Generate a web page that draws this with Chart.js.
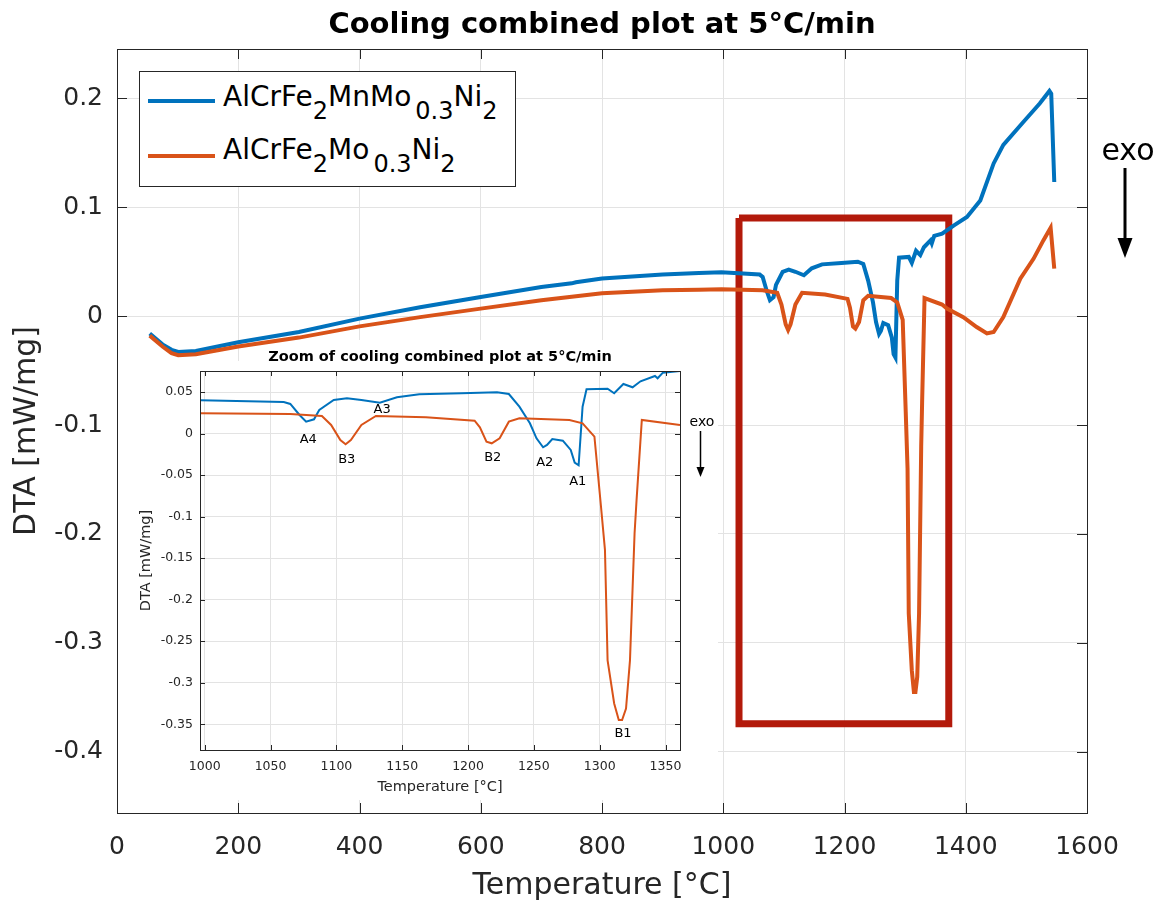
<!DOCTYPE html>
<html>
<head>
<meta charset="utf-8">
<script src="https://cdn.jsdelivr.net/npm/chart.js@4.4.1/dist/chart.umd.min.js"></script>
<style>
  body { margin: 0; background: #fff; }
  #wrap { position: relative; width: 1161px; height: 908px; font-family: 'DejaVu Sans', sans-serif; }
  #main { position: absolute; left: 0; top: 0; }
  #inset { position: absolute; left: 118px; top: 340px; }
  #legend { position: absolute; left: 139px; top: 71px; width: 375px; height: 114px;
            border: 1px solid #262626; background: #fff; color: #000; font-size: 28px; }
  #legend .row { position: absolute; left: 83px; line-height: 28px; white-space: nowrap; }
  #legend .sample { position: absolute; left: 8px; width: 67px; height: 4px; }
  #legend .sb { font-size: 24px; position: relative; top: 13px; }
</style>
</head>
<body>
<div id="wrap">
  <canvas id="main" width="1161" height="908"></canvas>
  <canvas id="inset" width="600" height="460"></canvas>
  <div id="legend">
    <div class="sample" style="top:27px;background:#0072BD"></div>
    <div class="row" style="top:11px">AlCrFe<span class="sb">2</span>MnMo<span class="sb" style="margin-left:4px">0.3</span>Ni<span class="sb">2</span></div>
    <div class="sample" style="top:82px;background:#D95319"></div>
    <div class="row" style="top:64px">AlCrFe<span class="sb">2</span>Mo<span class="sb" style="margin-left:4px">0.3</span>Ni<span class="sb">2</span></div>
  </div>
</div>
<script>
// DTA curves (temperature in °C, DTA in mW/mg)
const blueTemp = [54, 75, 90, 101, 130, 200, 300, 400, 500, 600,
  700, 750, 757, 800, 900, 960, 997, 1060, 1065, 1072,
  1077, 1083, 1087, 1098, 1108, 1119, 1133, 1146, 1163, 1195,
  1222, 1231, 1239, 1247, 1252, 1257, 1260, 1264, 1272, 1278,
  1281, 1284, 1287, 1290, 1306, 1311, 1318, 1325, 1331, 1342,
  1344, 1348, 1361, 1380, 1402, 1424, 1446, 1462, 1495, 1522,
  1538, 1541, 1546];
const blueDta = [-0.016, -0.026, -0.031, -0.033, -0.032, -0.024, -0.0147, -0.0024, 0.008, 0.0174,
  0.0266, 0.030, 0.031, 0.0345, 0.038, 0.0395, 0.0402, 0.0382, 0.0358, 0.0225,
  0.0145, 0.0173, 0.0286, 0.0406, 0.0426, 0.0406, 0.0374, 0.0438, 0.0474, 0.0486,
  0.0498, 0.0478, 0.0325, 0.0125, -0.0056, -0.0164, -0.0136, -0.0064, -0.0084, -0.0196,
  -0.0349, -0.038, 0.0325, 0.0535, 0.0542, 0.0487, 0.0599, 0.0559, 0.0631, 0.0695,
  0.0667, 0.0735, 0.0755, 0.083, 0.0908, 0.106, 0.14, 0.157, 0.178, 0.195,
  0.2065, 0.204, 0.123];

const orangeTemp = [54, 75, 90, 101, 130, 200, 300, 400, 500, 600,
  700, 800, 900, 960, 997, 1065, 1089, 1096, 1103, 1107,
  1111, 1119, 1130, 1168, 1205, 1209, 1214, 1218, 1224, 1231,
  1239, 1277, 1287, 1296, 1301, 1304, 1306, 1311, 1314.5, 1317,
  1320, 1323, 1326.5, 1328, 1332, 1361, 1369, 1396, 1418, 1435,
  1446, 1462, 1490, 1512, 1528, 1540, 1546];
const orangeDta = [-0.018, -0.028, -0.034, -0.036, -0.035, -0.028, -0.0198, -0.0095, -0.001, 0.0068,
  0.0144, 0.0208, 0.0236, 0.0242, 0.0246, 0.0237, 0.0213, 0.0105, -0.0076, -0.0128,
  -0.0076, 0.0105, 0.0213, 0.0197, 0.0157, 0.0077, -0.0096, -0.0116, -0.0055, 0.0145,
  0.0186, 0.0165, 0.0125, -0.0036, -0.088, -0.14, -0.273, -0.325, -0.345, -0.345,
  -0.331, -0.273, -0.12, -0.08, 0.0165, 0.0105, 0.0068, -0.001, -0.0101, -0.016,
  -0.0147, -0.001, 0.0343, 0.0527, 0.0694, 0.081, 0.0435];

// highlight box on the main plot (data coordinates)
const boxTemp = [1026, 1372, 1372, 1026, 1026];
const boxDta = [0.090, 0.090, -0.374, -0.374, 0.090];

// peak labels in the zoom plot
const peakNames = ['A4', 'B3', 'A3', 'B2', 'A2', 'A1', 'B1'];
const peakTemp = [1078.6, 1107.9, 1134.7, 1218.8, 1258.3, 1283.3, 1317.7];
const peakDta = [-0.0067, -0.0317, 0.0286, -0.0285, -0.0345, -0.0578, -0.361];

// ticks
const mainXTicks = [0, 200, 400, 600, 800, 1000, 1200, 1400, 1600];
const mainYTicks = [-0.4, -0.3, -0.2, -0.1, 0, 0.1, 0.2];
const mainYTickLabels = ['-0.4', '-0.3', '-0.2', '-0.1', '0', '0.1', '0.2'];
const zoomXTicks = [1000, 1050, 1100, 1150, 1200, 1250, 1300, 1350];
const zoomYTicks = [-0.35, -0.3, -0.25, -0.2, -0.15, -0.1, -0.05, 0, 0.05];
const zoomYTickLabels = ['-0.35', '-0.3', '-0.25', '-0.2', '-0.15', '-0.1', '-0.05', '0', '0.05'];

const BLUE = '#0072BD';
const ORANGE = '#D95319';
const AXIS = '#262626';
const GRID = '#e3e3e3';
const FONT = "'DejaVu Sans', sans-serif";

function toPoints(xs, ys) {
  return xs.map((x, i) => ({ x: x, y: ys[i] }));
}

// frame + inward tick marks like the original plotting tool
function framePlugin(tickLen) {
  return {
    id: 'frame',
    afterDatasetsDraw(chart) {
      const { ctx, chartArea: a, scales } = chart;
      ctx.save();
      ctx.strokeStyle = AXIS;
      ctx.lineWidth = 1;
      ctx.beginPath();
      scales.x.ticks.forEach(t => {
        const px = Math.round(scales.x.getPixelForValue(t.value)) + 0.5;
        ctx.moveTo(px, a.bottom); ctx.lineTo(px, a.bottom - tickLen);
        ctx.moveTo(px, a.top); ctx.lineTo(px, a.top + tickLen);
      });
      scales.y.ticks.forEach(t => {
        const py = Math.round(scales.y.getPixelForValue(t.value)) + 0.5;
        ctx.moveTo(a.left, py); ctx.lineTo(a.left + tickLen, py);
        ctx.moveTo(a.right, py); ctx.lineTo(a.right - tickLen, py);
      });
      ctx.stroke();
      ctx.strokeRect(Math.round(a.left) + 0.5, Math.round(a.top) + 0.5,
        Math.round(a.right - a.left), Math.round(a.bottom - a.top));
      ctx.restore();
    }
  };
}

function drawArrow(ctx, x, y0, y1, head, w, lw) {
  ctx.save();
  ctx.strokeStyle = '#000';
  ctx.fillStyle = '#000';
  ctx.lineWidth = lw;
  ctx.beginPath();
  ctx.moveTo(x, y0);
  ctx.lineTo(x, y1 - head + 1);
  ctx.stroke();
  ctx.beginPath();
  ctx.moveTo(x - w / 2, y1 - head);
  ctx.lineTo(x + w / 2, y1 - head);
  ctx.lineTo(x, y1);
  ctx.closePath();
  ctx.fill();
  ctx.restore();
}

// main chart
const mainExtras = {
  id: 'mainExtras',
  afterDraw(chart) {
    const { ctx, chartArea: a } = chart;
    ctx.save();
    ctx.fillStyle = '#000';
    ctx.font = 'bold 29px ' + FONT;
    ctx.textAlign = 'center';
    ctx.textBaseline = 'alphabetic';
    ctx.fillText('Cooling combined plot at 5°C/min', (a.left + a.right) / 2, 33);
    ctx.font = '30px ' + FONT;
    ctx.textBaseline = 'middle';
    ctx.fillText('exo', 1128, 152);
    ctx.restore();
    drawArrow(ctx, 1125, 168, 258, 20, 15, 3);
  }
};

new Chart(document.getElementById('main'), {
  type: 'line',
  data: {
    datasets: [
      { label: 'AlCrFe2Mo0.3Ni2', data: toPoints(orangeTemp, orangeDta), borderColor: ORANGE,
        borderWidth: 4, pointRadius: 0, tension: 0, order: 0 },
      { label: 'AlCrFe2MnMo0.3Ni2', data: toPoints(blueTemp, blueDta), borderColor: BLUE,
        borderWidth: 4, pointRadius: 0, tension: 0, order: 1 },
      { label: 'zoom box', data: toPoints(boxTemp, boxDta), borderColor: '#B31A0B',
        borderWidth: 7, borderJoinStyle: 'miter', pointRadius: 0, tension: 0, order: 2 }
    ]
  },
  options: {
    responsive: false,
    animation: false,
    layout: { padding: { top: 49, right: 74, left: 0, bottom: 0 } },
    plugins: { legend: { display: false }, tooltip: { enabled: false } },
    scales: {
      x: {
        type: 'linear', min: 0, max: 1600,
        afterBuildTicks: s => { s.ticks = mainXTicks.map(v => ({ value: v })); },
        afterFit: s => { s.height = 95; },
        ticks: { color: AXIS, font: { family: FONT, size: 25 }, padding: 19, maxRotation: 0,
                 callback: v => String(v) },
        grid: { color: GRID, drawTicks: false },
        border: { display: false },
        title: { display: true, text: 'Temperature [°C]', color: AXIS,
                 font: { family: FONT, size: 30 }, padding: { top: 0, bottom: 4 } }
      },
      y: {
        type: 'linear', min: -0.456, max: 0.245,
        afterBuildTicks: s => { s.ticks = mainYTicks.map(v => ({ value: v })); },
        afterFit: s => { s.width = 117; },
        ticks: { color: AXIS, font: { family: FONT, size: 25 }, padding: 14,
                 callback: v => mainYTickLabels[mainYTicks.indexOf(v)] },
        grid: { color: GRID, drawTicks: false },
        border: { display: false },
        title: { display: true, text: 'DTA [mW/mg]', color: AXIS,
                 font: { family: FONT, size: 30 }, padding: { top: 9, bottom: 0 } }
      }
    }
  },
  plugins: [framePlugin(10), mainExtras]
});

// inset (zoom) chart
const insetExtras = {
  id: 'insetExtras',
  beforeDraw(chart) {
    const ctx = chart.ctx;
    ctx.save();
    ctx.fillStyle = '#fff';
    ctx.fillRect(0, 0, chart.width, chart.height);
    // leave the strip above the zoom title open so the main curves stay visible
    ctx.clearRect(0, 0, 205, 21);
    ctx.restore();
  },
  afterDatasetsDraw(chart) {
    const { ctx, chartArea: a, scales } = chart;
    ctx.save();
    ctx.fillStyle = '#000';
    ctx.font = '13px ' + FONT;
    ctx.textAlign = 'center';
    ctx.textBaseline = 'middle';
    peakNames.forEach((n, i) => {
      ctx.fillText(n, scales.x.getPixelForValue(peakTemp[i]), scales.y.getPixelForValue(peakDta[i]));
    });
    ctx.font = 'bold 14.5px ' + FONT;
    ctx.fillText('Zoom of cooling combined plot at 5°C/min', (a.left + a.right) / 2, 17);
    ctx.font = '14px ' + FONT;
    ctx.fillText('exo', 584, 82);
    ctx.restore();
    drawArrow(ctx, 582.5, 91, 137, 10, 8, 1.5);
  }
};

new Chart(document.getElementById('inset'), {
  type: 'line',
  data: {
    datasets: [
      { label: 'AlCrFe2Mo0.3Ni2', data: toPoints(orangeTemp, orangeDta), borderColor: ORANGE,
        borderWidth: 2, pointRadius: 0, tension: 0, order: 0 },
      { label: 'AlCrFe2MnMo0.3Ni2', data: toPoints(blueTemp, blueDta), borderColor: BLUE,
        borderWidth: 2, pointRadius: 0, tension: 0, order: 1 }
    ]
  },
  options: {
    responsive: false,
    animation: false,
    layout: { padding: { top: 31, right: 38, left: 0, bottom: 0 } },
    plugins: { legend: { display: false }, tooltip: { enabled: false } },
    scales: {
      x: {
        type: 'linear', min: 996.4, max: 1361,
        afterBuildTicks: s => { s.ticks = zoomXTicks.map(v => ({ value: v })); },
        afterFit: s => { s.height = 50; },
        ticks: { color: AXIS, font: { family: FONT, size: 12.5 }, padding: 9, maxRotation: 0,
                 callback: v => String(v) },
        grid: { color: GRID, drawTicks: false },
        border: { display: false },
        title: { display: true, text: 'Temperature [°C]', color: AXIS,
                 font: { family: FONT, size: 14.5 }, padding: { top: 0, bottom: 4 } }
      },
      y: {
        type: 'linear', min: -0.381, max: 0.0755,
        afterBuildTicks: s => { s.ticks = zoomYTicks.map(v => ({ value: v })); },
        afterFit: s => { s.width = 82; },
        ticks: { color: AXIS, font: { family: FONT, size: 12.5 }, padding: 7,
                 callback: v => zoomYTickLabels[zoomYTicks.indexOf(v)] },
        grid: { color: GRID, drawTicks: false },
        border: { display: false },
        title: { display: true, text: 'DTA [mW/mg]', color: AXIS,
                 font: { family: FONT, size: 14.5 }, padding: { top: 20, bottom: 0 } }
      }
    }
  },
  plugins: [framePlugin(5), insetExtras]
});
</script>
</body>
</html>
